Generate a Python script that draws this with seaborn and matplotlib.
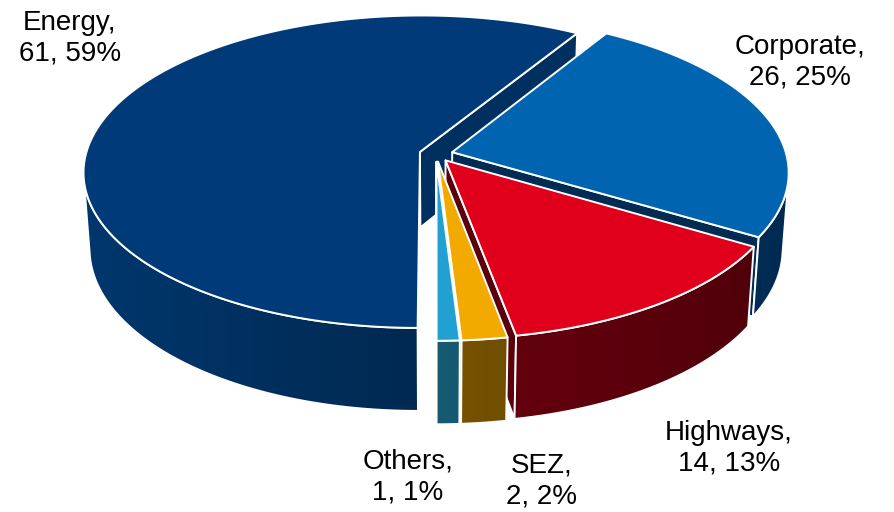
import numpy as np
import matplotlib
matplotlib.use("Agg")
import matplotlib.pyplot as plt
import seaborn as sns
from matplotlib.patches import Polygon
from matplotlib.colors import to_rgb

# ---------------- data ----------------
categories = ["Energy", "Corporate", "Highways", "SEZ", "Others"]
values = [61, 26, 14, 2, 1]
percents = [59, 25, 13, 2, 1]
top_colors = ["#003A78", "#0064B0", "#E0001B", "#F2A900", "#22A0D2"]
side_colors = ["#00305F", "#002B52", "#5A000C", "#735000", "#155A70"]

# label anchor positions in pixels (layout)
label_px = [(70, 38), (800, 62), (729, 448), (542, 481), (408, 477)]

sns.set_theme(style="white")
plt.rcParams['font.family'] = ['Liberation Sans', 'DejaVu Sans']

# ---------------- geometry ----------------
START = 270.0
TILT = np.radians(27.5)
DCAM = 7.0
HGT = 0.26
EXPLODE = 0.05
S = 334.0
CX, CY = 436, 154
W, HP = 895, 512
EDGE = "white"
LW = 1.4
cT, sT = np.cos(TILT), np.sin(TILT)
CAM = np.array([0.0, -DCAM * cT, DCAM * sT])


def project(p):
    x, y, z = p
    dist = DCAM + y * cT - z * sT
    v = y * sT + z * cT
    return (x * DCAM / dist, v * DCAM / dist), dist


def shade(col, f):
    r, g, b = to_rgb(col)
    return [min(1.0, max(0.0, c * f)) for c in (r, g, b)]


fig = plt.figure(figsize=(W / 100, HP / 100), dpi=100)
ax = fig.add_axes([0, 0, 1, 1])
ax.axis("off")

total = float(sum(values))
side_items = []   # (depth, kind, payload)
tops = []
cum = 0.0
for i, v in enumerate(values):
    hi = START - cum / total * 360.0
    lo = hi - v / total * 360.0
    cum += v
    mid = np.radians((lo + hi) / 2)
    ex, ey = EXPLODE * np.cos(mid), EXPLODE * np.sin(mid)

    def rim(phi, z):
        return np.array([ex + np.cos(phi), ey + np.sin(phi), z])

    cen_t = np.array([ex, ey, 0.0])
    cen_b = np.array([ex, ey, -HGT])
    n = max(4, int((hi - lo) * 2))
    phis = np.radians(np.linspace(lo, hi, n))

    # top face
    pts = [project(cen_t)[0]] + [project(rim(p, 0.0))[0] for p in phis]
    tops.append((pts, top_colors[i]))

    # outer wall (front-facing part)
    vis = []
    for p in phis:
        q = rim(p, -HGT / 2)
        nrm = np.array([np.cos(p), np.sin(p), 0.0])
        vis.append(np.dot(nrm, CAM - q) > 0)
    vis = np.array(vis)
    if vis.sum() >= 2:
        vp = phis[vis]
        outline = [project(rim(p, 0.0))[0] for p in vp] + \
                  [project(rim(p, -HGT))[0] for p in vp[::-1]]
        depth = np.mean([project(rim(p, 0.0))[1] for p in vp])
        side_items.append((depth, "wall", (outline, side_colors[i])))

    # radial faces
    for ang, sgn in ((np.radians(lo), 1), (np.radians(hi), -1)):
        nrm = sgn * np.array([np.sin(ang), -np.cos(ang), 0.0])
        corners = [cen_t, rim(ang, 0.0), rim(ang, -HGT), cen_b]
        cm = np.mean(corners, axis=0)
        if np.dot(nrm, CAM - cm) > 0:
            pp = [project(c)[0] for c in corners]
            d = project(cm)[1]
            side_items.append((d, "face", (pp, side_colors[i])))

z = 1
for d, kind, (pts, col) in sorted(side_items, key=lambda t: -t[0]):
    if kind == "wall":
        arr = np.array(pts)
        x0, x1 = arr[:, 0].min(), arr[:, 0].max()
        y0, y1 = arr[:, 1].min(), arr[:, 1].max()
        xm = (x0 + x1) / 2
        xs = np.linspace(x0, x1, 300)
        grad = np.array([shade(col, 1.0 - 0.3 * (x - xm)) for x in xs])
        img = np.stack([grad, grad])
        clip = Polygon(pts, closed=True, facecolor="none", edgecolor="none",
                       transform=ax.transData)
        ax.add_patch(clip)
        im = ax.imshow(img, extent=(x0, x1, y0, y1), aspect="auto",
                       interpolation="bilinear", origin="lower", zorder=z)
        im.set_clip_path(clip)
        z += 1
        ax.add_patch(Polygon(pts, closed=True, fill=False, edgecolor=EDGE,
                             lw=LW, joinstyle="round", zorder=z))
    else:
        ax.add_patch(Polygon(pts, closed=True, facecolor=col, edgecolor=EDGE,
                             lw=LW, joinstyle="round", zorder=z))
    z += 1

for pts, col in tops:
    ax.add_patch(Polygon(pts, closed=True, facecolor=col, edgecolor=EDGE,
                         lw=LW, joinstyle="round", zorder=z))
    z += 1

ax.set_xlim(-CX / S, (W - CX) / S)
ax.set_ylim(-(HP - CY) / S, CY / S)

for (px, py), cat, v, p in zip(label_px, categories, values, percents):
    fig.text(px / W, 1 - py / HP, f"{cat},\n{v}, {p}%", ha="center", va="center",
             multialignment="center", fontsize=20, color="black", linespacing=1.22)

fig.savefig("out.png", dpi=100)
